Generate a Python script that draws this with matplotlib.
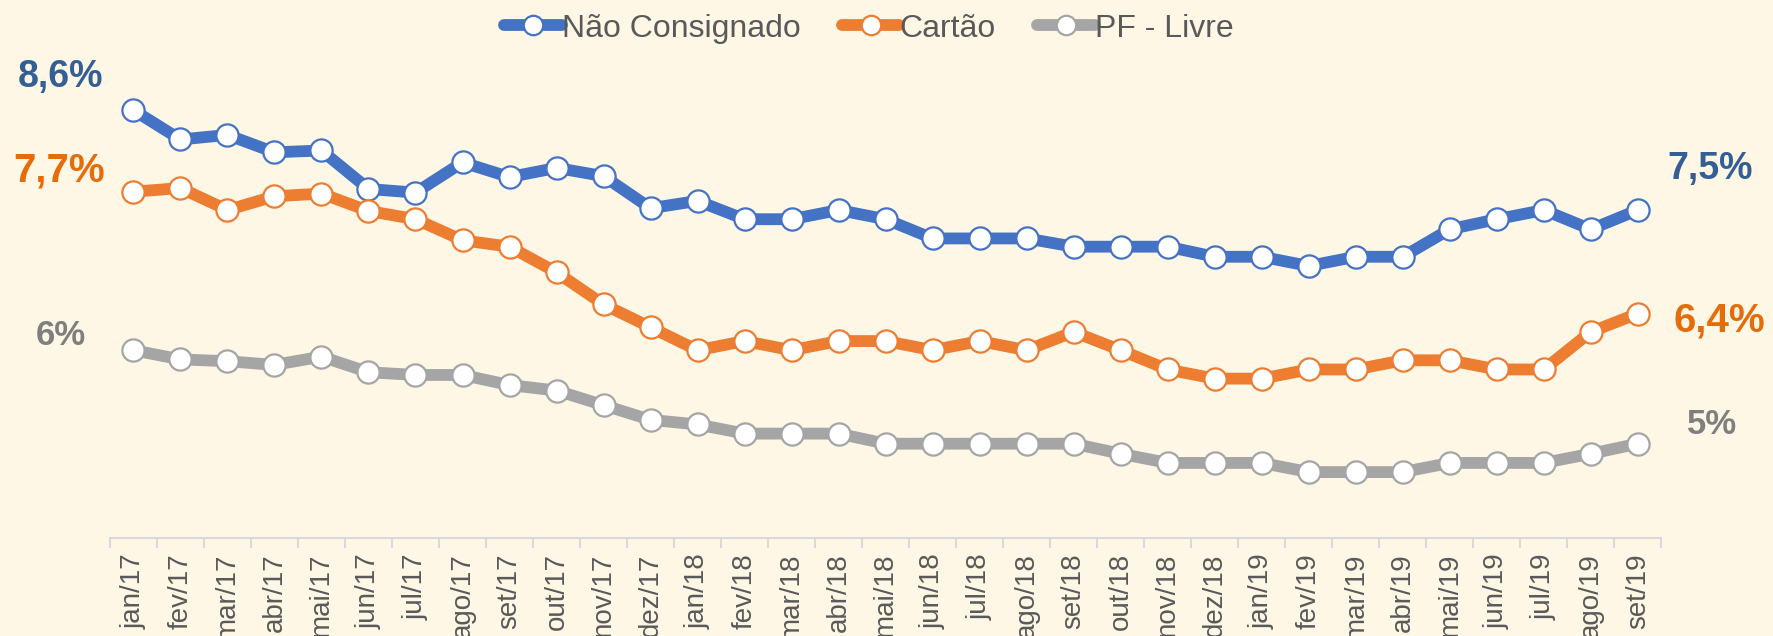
import numpy as np
import matplotlib
matplotlib.use("Agg")
import matplotlib.pyplot as plt
from matplotlib.ticker import FixedLocator

# data (% a.m.)
months = ['jan/17', 'fev/17', 'mar/17', 'abr/17', 'mai/17', 'jun/17', 'jul/17', 'ago/17',
          'set/17', 'out/17', 'nov/17', 'dez/17', 'jan/18', 'fev/18', 'mar/18', 'abr/18',
          'mai/18', 'jun/18', 'jul/18', 'ago/18', 'set/18', 'out/18', 'nov/18', 'dez/18',
          'jan/19', 'fev/19', 'mar/19', 'abr/19', 'mai/19', 'jun/19', 'jul/19', 'ago/19',
          'set/19']

nao_consignado = [8.60, 8.28, 8.33, 8.14, 8.16, 7.74, 7.70, 8.03, 7.87, 7.97, 7.88,
                  7.53, 7.61, 7.41, 7.41, 7.51, 7.41, 7.20, 7.20, 7.20, 7.11, 7.11,
                  7.11, 7.00, 7.00, 6.90, 7.00, 7.00, 7.30, 7.41, 7.51, 7.30, 7.51]
cartao = [7.71, 7.75, 7.51, 7.66, 7.69, 7.50, 7.41, 7.18, 7.11, 6.83, 6.48,
          6.23, 5.98, 6.08, 5.98, 6.08, 6.08, 5.98, 6.08, 5.98, 6.18, 5.98,
          5.77, 5.67, 5.67, 5.77, 5.77, 5.87, 5.87, 5.77, 5.77, 6.18, 6.38]
pf_livre = [5.98, 5.88, 5.86, 5.82, 5.91, 5.74, 5.71, 5.71, 5.60, 5.54, 5.38,
            5.22, 5.17, 5.07, 5.07, 5.07, 4.96, 4.96, 4.96, 4.96, 4.96, 4.85,
            4.75, 4.75, 4.75, 4.65, 4.65, 4.65, 4.75, 4.75, 4.75, 4.85, 4.96]

series_names = ['Não Consignado', 'Cartão', 'PF - Livre']
start_labels = ['8,6%', '7,7%', '6%']
end_labels = ['7,5%', '6,4%', '5%']

line_colors = ['#4472C4', '#ED7D31', '#A5A5A5']
label_colors = ['#335F95', '#E46C0A', '#7F7F7F']
bg = '#FFF7E6'

plt.rcParams['font.family'] = ['Liberation Sans', 'DejaVu Sans']

fig = plt.figure(figsize=(17.73, 6.36), dpi=100, facecolor=bg)
ax = fig.add_axes([0.062, 0.154, 0.875, 0.752])
ax.set_facecolor(bg)

x = np.arange(len(months))
all_series = [nao_consignado, cartao, pf_livre]
for vals, name, col in zip(all_series, series_names, line_colors):
    ax.plot(x, vals, color=col, lw=8.5, marker='o', ms=16, mfc='white',
            mec=col, mew=1.6, label=name, solid_joinstyle='round')

# start / end value labels (offsets in pixels)
start_off = [(-73, 33), (-74, 21), (-73, 15)]
end_off = [(72, 41), (82, -7), (74, 19)]
start_sizes = [27, 29, 25]
end_sizes = [27, 29, 25]
for i, vals in enumerate(all_series):
    ax.annotate(start_labels[i], xy=(x[0], vals[0]), xytext=start_off[i],
                textcoords='offset pixels', ha='center', va='center',
                fontsize=start_sizes[i], fontweight='bold', color=label_colors[i])
    ax.annotate(end_labels[i], xy=(x[-1], vals[-1]), xytext=end_off[i],
                textcoords='offset pixels', ha='center', va='center',
                fontsize=end_sizes[i], fontweight='bold', color=label_colors[i])

ax.set_xlim(-0.5, len(months) - 0.5)
ax.set_ylim(3.93, 9.15)
ax.set_yticks([])
for s in ['top', 'right', 'left']:
    ax.spines[s].set_visible(False)
ax.spines['bottom'].set_color('#D9D9D9')
ax.spines['bottom'].set_linewidth(1.5)

ax.set_xticks(x)
ax.set_xticklabels(months, rotation=90, fontsize=20, color='#595959')
ax.tick_params(axis='x', which='major', length=0, pad=11)
ax.xaxis.set_minor_locator(FixedLocator(np.arange(-0.5, len(months), 1.0)))
ax.tick_params(axis='x', which='minor', length=7, width=1.5, color='#D9D9D9')

leg = fig.legend(loc='center', bbox_to_anchor=(0.49, 0.955), ncol=3, frameon=False,
                 fontsize=23, handlelength=1.8, handletextpad=0.0, columnspacing=1.3,
                 labelcolor='#595959')
for h in leg.legend_handles:
    h.set_markersize(14)
    h.set_solid_capstyle('round')

fig.savefig('out.png', dpi=100, facecolor=bg)
